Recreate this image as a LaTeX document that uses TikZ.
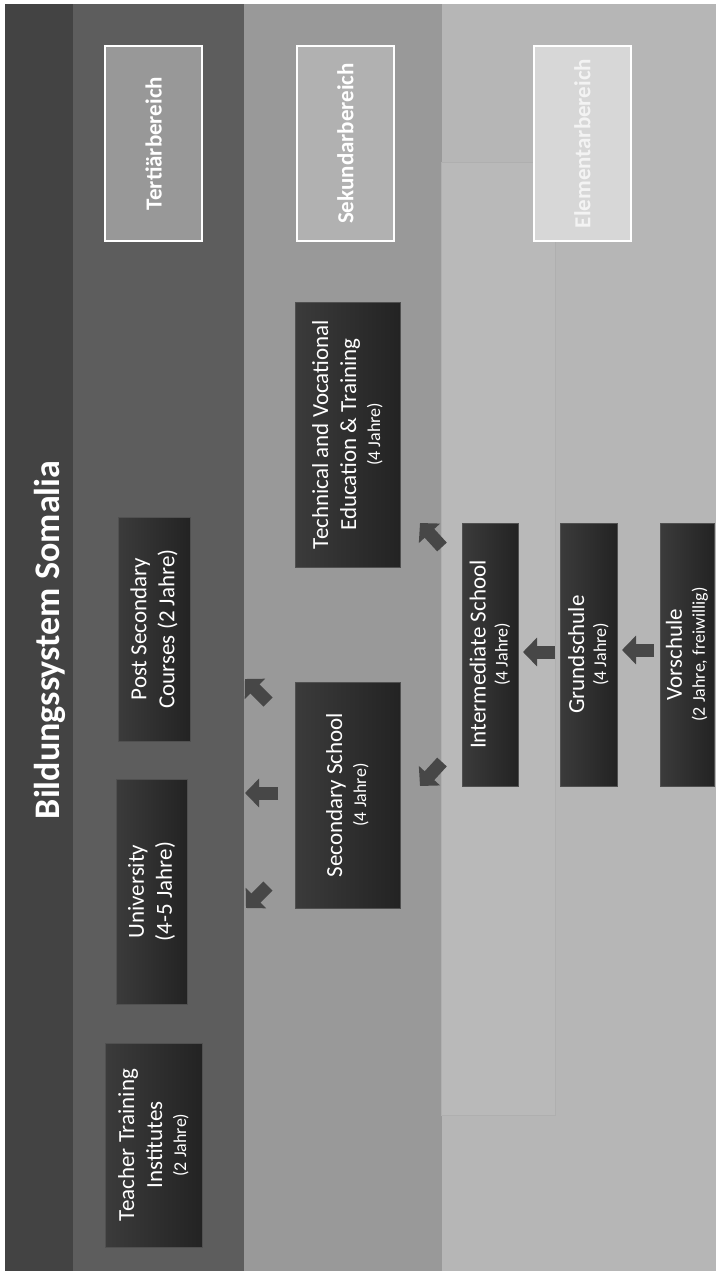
\documentclass[tikz,border=0pt]{standalone}
\usepackage{fontspec}
\setmainfont{Carlito}
\usetikzlibrary{arrows.meta}
\definecolor{titleband}{HTML}{434343}
\definecolor{tertband}{HTML}{5D5D5D}
\definecolor{sekband}{HTML}{999999}
\definecolor{elemband}{HTML}{B6B6B6}
\definecolor{eleminner}{HTML}{B9B9B9}
\definecolor{elemline}{HTML}{AFAFAF}
\definecolor{hdrA}{HTML}{989898}
\definecolor{hdrB}{HTML}{B1B1B1}
\definecolor{hdrC}{HTML}{D7D7D7}
\definecolor{hdrCtext}{HTML}{F3F3F3}
\definecolor{boxlight}{HTML}{3B3B3B}
\definecolor{boxdark}{HTML}{232323}
\definecolor{boxline}{HTML}{505050}
\definecolor{arrowgray}{HTML}{474747}
\newcommand{\smalltxt}[1]{{\fontsize{18}{20}\selectfont #1}}
\tikzset{
  bx/.style={rotate=90, draw=boxline, line width=0.8pt, left color=boxlight, right color=boxdark,
    text=white, align=center, inner sep=0pt, font=\fontsize{23}{28}\selectfont},
  hdr/.style={rotate=90, draw=white, line width=1.4pt, inner sep=0pt,
    minimum width=195pt, minimum height=97pt, font=\bfseries\fontsize{23}{28}\selectfont, text=white},
  blk/.style={line width=13pt, draw=arrowgray, line cap=butt,
    -{Triangle[length=14pt,width=28pt]}},
}
\begin{document}
\begin{tikzpicture}[x=1pt,y=-1pt]
\useasboundingbox (0,0) rectangle (716,1271);
\fill[white] (0,0) rectangle (716,1271);
% bands
\fill[titleband] (5,4) rectangle (73,1271);
\fill[tertband] (73,4) rectangle (244,1271);
\fill[sekband] (244,4) rectangle (442,1271);
\fill[elemband] (442,4) rectangle (716,1271);
\filldraw[fill=eleminner, draw=elemline, line width=0.4pt] (441,162) rectangle (555,1115);
% title
\node[rotate=90, text=white, font=\bfseries\fontsize{36}{40}\selectfont, inner sep=0pt] (title) at (50,640) {Bildungssystem Somalia};
% headers
\node[hdr, fill=hdrA] (tert) at (153.5,143.5) {Tertiärbereich};
\node[hdr, fill=hdrB] (sek) at (345.5,143.5) {Sekundarbereich};
\node[hdr, fill=hdrC, text=hdrCtext] (elem) at (582.5,143.5) {Elementarbereich};
% tertiary boxes
\node[bx, minimum width=224pt, minimum height=72pt] (post) at (154,629) {Post Secondary\\Courses (2 Jahre)};
\node[bx, minimum width=225pt, minimum height=71pt] (uni) at (151.5,891.5) {University\\(4-5 Jahre)};
\node[bx, minimum width=204pt, minimum height=97pt] (teach) at (153.5,1145) {Teacher Training\\Institutes\\[-4pt]\smalltxt{(2 Jahre)}};
% secondary boxes
\node[bx, minimum width=265pt, minimum height=105pt] (tvet) at (347.5,434.5) {Technical and Vocational\\Education \& Training\\[-4pt]\smalltxt{(4 Jahre)}};
\node[bx, minimum width=226pt, minimum height=105pt] (sec) at (347.5,795) {Secondary School\\[-4pt]\smalltxt{(4 Jahre)}};
% elementary boxes
\node[bx, minimum width=263pt, minimum height=56pt] (inter) at (490,654.5) {Intermediate School\\[-6pt]\smalltxt{(4 Jahre)}};
\node[bx, minimum width=263pt, minimum height=57pt] (grund) at (588.5,654.5) {Grundschule\\[-6pt]\smalltxt{(4 Jahre)}};
\node[bx, minimum width=263pt, minimum height=54pt] (vor) at (687,654.5) {Vorschule\\[-5pt]\smalltxt{(2 Jahre, freiwillig)}};
% arrow end points
\coordinate (a1s) at (442,547); \coordinate (a1e) at (420,523);
\coordinate (a2s) at (442,762); \coordinate (a2e) at (420,786);
\coordinate (a3s) at (555,652); \coordinate (a3e) at (523,652);
\coordinate (a4s) at (654,650); \coordinate (a4e) at (622,650);
\coordinate (a5s) at (268,702); \coordinate (a5e) at (245,679);
\coordinate (a6s) at (278,793); \coordinate (a6e) at (245,793);
\coordinate (a7s) at (268,886); \coordinate (a7e) at (246,908);
\draw[blk] (a1s) -- (a1e);
\draw[blk] (a2s) -- (a2e);
\draw[blk] (a3s) -- (a3e);
\draw[blk] (a4s) -- (a4e);
\draw[blk] (a5s) -- (a5e);
\draw[blk] (a6s) -- (a6e);
\draw[blk] (a7s) -- (a7e);
\end{tikzpicture}
\end{document}
